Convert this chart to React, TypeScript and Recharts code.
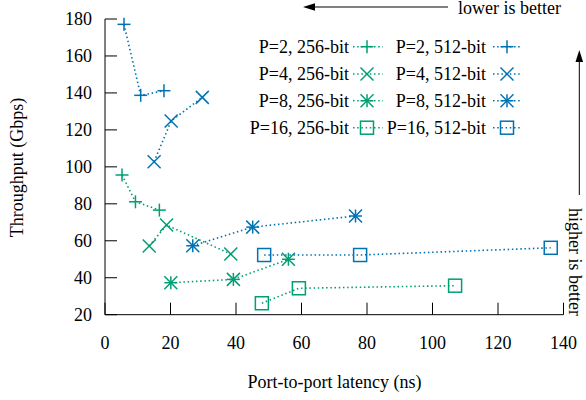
import { ScatterChart, Scatter, XAxis, YAxis } from 'recharts'

// values
const ports = [2, 4, 8, 16]
const widths = ['256-bit', '512-bit']
const markerKinds = ['plus', 'cross', 'star', 'square']

const latency256 = [
  [5.2, 9.3, 16.6],
  [13.5, 18.8, 38.4],
  [20.1, 39.2, 56.0],
  [47.9, 59.2, 106.9],
]
const throughput256 = [
  [95.6, 81.1, 76.6],
  [57.2, 68.5, 52.8],
  [37.3, 39.1, 50.0],
  [26.2, 34.3, 35.7],
]
const latency512 = [
  [5.8, 10.9, 18.0],
  [15.0, 20.2, 29.7],
  [26.8, 45.1, 76.5],
  [48.6, 77.9, 136.1],
]
const throughput512 = [
  [177.1, 138.7, 141.2],
  [102.8, 124.8, 137.6],
  [57.3, 67.4, 73.4],
  [52.3, 52.3, 56.2],
]

const xTicks = [0, 20, 40, 60, 80, 100, 120, 140]
const yTicks = [20, 40, 60, 80, 100, 120, 140, 160, 180]

const W = 586
const H = 400
const LEFT = 105
const RIGHT = 563.5
const TOP = 19
const BOTTOM = 314.7
const TICK = 12
const FONT = '"Liberation Serif", "DejaVu Serif", serif'
const FS = 18
const COLORS = ['#009e73', '#0072b2']
const DOTS = '1.5 2.7'

function Marker({ kind, cx, cy, color }: { kind: string; cx: number; cy: number; color: string }) {
  const s = 6.5
  const st = { stroke: color, strokeWidth: 1.5, fill: 'none' }
  const plus = (
    <>
      <line x1={cx - s} x2={cx + s} y1={cy} y2={cy} />
      <line x1={cx} x2={cx} y1={cy - s} y2={cy + s} />
    </>
  )
  const cross = (
    <>
      <line x1={cx - s} x2={cx + s} y1={cy - s} y2={cy + s} />
      <line x1={cx - s} x2={cx + s} y1={cy + s} y2={cy - s} />
    </>
  )
  if (kind === 'plus') return <g {...st}>{plus}</g>
  if (kind === 'cross') return <g {...st}>{cross}</g>
  if (kind === 'star') return <g {...st}>{plus}{cross}</g>
  return <rect x={cx - s} y={cy - s} width={2 * s} height={2 * s} {...st} />
}

const tickText = { fontFamily: FONT, fontSize: FS, fill: '#000' }

const BottomTick = (p: any) => (
  <g>
    <line x1={p.x} x2={p.x} y1={BOTTOM} y2={BOTTOM - TICK} stroke="#000" />
    <text x={p.x} y={349} textAnchor="middle" {...tickText}>{p.payload.value}</text>
  </g>
)
const TopTick = (p: any) => <line x1={p.x} x2={p.x} y1={TOP} y2={TOP + TICK} stroke="#000" />
const LeftTick = (p: any) => (
  <g>
    <line x1={LEFT} x2={LEFT + TICK} y1={p.y} y2={p.y} stroke="#000" />
    <text x={92} y={p.y + 6} textAnchor="end" {...tickText}>{p.payload.value}</text>
  </g>
)
const RightTick = (p: any) => <line x1={RIGHT} x2={RIGHT - TICK} y1={p.y} y2={p.y} stroke="#000" />

const series = [latency256, latency512].flatMap((lat, w) =>
  ports.map((P, i) => ({
    name: `P=${P}, ${widths[w]}`,
    color: COLORS[w],
    kind: markerKinds[i],
    data: lat[i].map((x, k) => ({ x, y: (w === 0 ? throughput256 : throughput512)[i][k] })),
  }))
)

// legend geometry
const legendRows = [46.7, 74, 100.7, 127.7]
const legendTextRight = [349, 486]
const legendLine = [[353, 383], [493, 522]]
const legendMarkX = [367, 507]

export default function App() {
  return (
    <div style={{ position: 'absolute', left: 0, top: 0, width: W, height: H, background: '#fff' }}>
      <ScatterChart
        width={W}
        height={H}
        margin={{ top: TOP, right: W - RIGHT, bottom: H - BOTTOM - 30, left: 0 }}
      >
        <XAxis
          xAxisId="b"
          type="number"
          dataKey="x"
          domain={[0, 140]}
          ticks={xTicks}
          height={30}
          axisLine={{ stroke: '#000' }}
          tickLine={false}
          tick={BottomTick}
          interval={0}
        />
        <XAxis
          xAxisId="t"
          orientation="top"
          type="number"
          dataKey="x"
          domain={[0, 140]}
          ticks={xTicks}
          height={0}
          axisLine={{ stroke: '#000' }}
          tickLine={false}
          tick={TopTick}
          interval={0}
        />
        <YAxis
          yAxisId="l"
          type="number"
          dataKey="y"
          domain={[20, 180]}
          ticks={yTicks}
          width={LEFT}
          axisLine={{ stroke: '#000' }}
          tickLine={false}
          tick={LeftTick}
          interval={0}
        />
        <YAxis
          yAxisId="r"
          orientation="right"
          type="number"
          dataKey="y"
          domain={[20, 180]}
          ticks={yTicks}
          width={0}
          axisLine={{ stroke: '#000' }}
          tickLine={false}
          tick={RightTick}
          interval={0}
        />
        {series.map((s) => (
          <Scatter
            key={s.name}
            name={s.name}
            data={s.data}
            xAxisId="b"
            yAxisId="l"
            isAnimationActive={false}
            line={{ stroke: s.color, strokeWidth: 1.6, strokeDasharray: DOTS }}
            lineType="joint"
            shape={(p: any) => <Marker kind={s.kind} cx={p.cx} cy={p.cy} color={s.color} />}
          />
        ))}
      </ScatterChart>
      <svg
        width={W}
        height={H}
        style={{ position: 'absolute', left: 0, top: 0, pointerEvents: 'none' }}
      >
        {ports.map((P, i) =>
          widths.map((wd, w) => (
            <g key={`${P}-${wd}`}>
              <text x={legendTextRight[w]} y={legendRows[i] + 6} textAnchor="end" {...tickText}>
                {`P=${P}, ${wd}`}
              </text>
              <line
                x1={legendLine[w][0]}
                x2={legendLine[w][1]}
                y1={legendRows[i]}
                y2={legendRows[i]}
                stroke={COLORS[w]}
                strokeWidth={1.6}
                strokeDasharray={DOTS}
              />
              <Marker kind={markerKinds[i]} cx={legendMarkX[w]} cy={legendRows[i]} color={COLORS[w]} />
            </g>
          ))
        )}
        <text x={23} y={167.5} textAnchor="middle" transform="rotate(-90 23 167.5)" {...tickText}>
          Throughput (Gbps)
        </text>
        <text x={334.5} y={388} textAnchor="middle" {...tickText}>
          Port-to-port latency (ns)
        </text>
        <line x1={448} x2={312} y1={7} y2={7} stroke="#000" />
        <polygon points="303,7 315,3.2 315,10.8" fill="#000" />
        <text x={458} y={14} {...tickText}>lower is better</text>
        <line x1={579.3} x2={579.3} y1={195} y2={59} stroke="#000" />
        <polygon points="579.3,50 575.5,62 583.1,62" fill="#000" />
        <text x={569} y={262} textAnchor="middle" transform="rotate(90 569 262)" {...tickText}>
          higher is better
        </text>
      </svg>
    </div>
  )
}
